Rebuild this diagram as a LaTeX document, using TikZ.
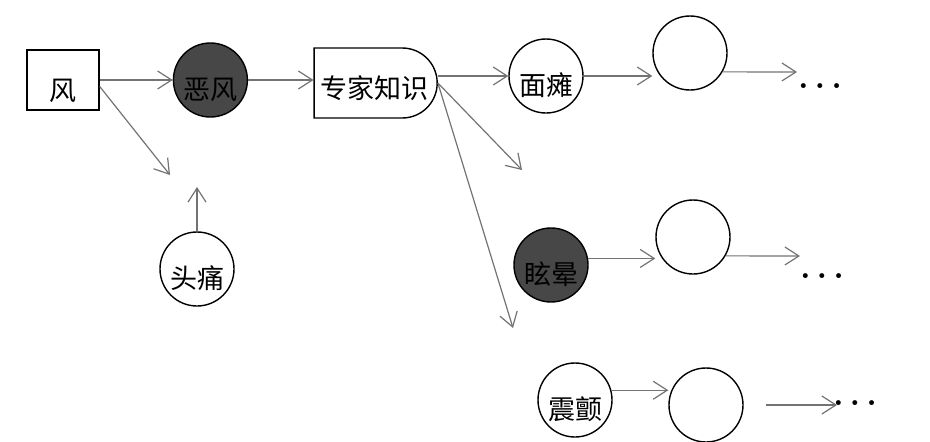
\documentclass[tikz,border=0pt]{standalone}
\usepackage{fontspec}
\usepackage{tikz}
\usetikzlibrary{arrows.meta, positioning, shapes.misc}
\newfontfamily\cjk{Noto Sans CJK SC}

\begin{document}
\begin{tikzpicture}[x=1pt, y=-1pt,
    sym/.style={draw, circle, line width=1.4pt, minimum size=74pt, inner sep=0pt,
                font=\cjk\fontsize{27}{27}\selectfont, text height=38pt, text depth=0pt},
    dk/.style={sym, fill=black!72},
    kb/.style={draw, rounded rectangle, rounded rectangle west arc=none, line width=1.4pt,
               minimum width=125pt, minimum height=70pt, inner sep=1pt,
               font=\cjk\fontsize{27}{27}\selectfont, text height=30pt, text depth=0pt},
    bx/.style={draw, line width=1.4pt, minimum width=72pt, minimum height=60pt, inner sep=0pt,
               font=\cjk\fontsize{27}{27}\selectfont, text height=40pt, text depth=0pt},
    dts/.style={font=\bfseries\fontsize{34}{34}\selectfont, inner sep=0pt},
    arr/.style={-{Straight Barb[length=14pt, width=18pt]}, line width=1.2pt, black!55}]
  \useasboundingbox (0,0) rectangle (930,442);
  \node[bx] (feng) at (63,80) {风};
  \node[dk, right=73pt of feng] (efeng) {恶风};
  \node[kb] (zj) at (374,83) {专家知识};
  \node[sym] (tt) at (197,269) {头痛};
  \node[sym] (mian) at (546,76) {面瘫};
  \node[sym] (e1) at (690,53) {};
  \node[dk] (xuan) at (551,265) {眩晕};
  \node[sym] (e2) at (693,237) {};
  \node[sym] (zhen) at (575,400) {震颤};
  \node[sym] (e3) at (706,405) {};
  \node[dts] (d1) at (820,86) {.\hspace{6pt}.\hspace{6pt}.};
  \node[dts] (d2) at (822,276) {.\hspace{6pt}.\hspace{6pt}.};
  \node[dts] (d3) at (855,403) {.\hspace{6pt}.\hspace{6pt}.};
  % free ends
  \coordinate (fd) at (170,175);
  \coordinate (tu) at (197,187);
  \coordinate (zd1) at (522,170);
  \coordinate (zd2) at (513,328);
  \coordinate (a1) at (797,72);
  \coordinate (a2) at (800,256);
  \coordinate (a3) at (837,405);
  \draw[arr] (feng) -- (efeng);
  \draw[arr] (feng.-10) -- (fd);
  \draw[arr] (tt) -- (tu);
  \draw[arr] (efeng) -- (efeng -| zj.west);
  \draw[arr] (zj.east |- mian) -- (mian);
  \draw[arr] (zj.east) -- (zd1);
  \draw[arr] (zj.east) -- (zd2);
  \draw[arr] (mian.east) -- (mian.east -| e1.west);
  \draw[arr] (e1.-30) -- (a1);
  \draw[arr] (xuan.10) -- (xuan.10 -| e2.west);
  \draw[arr] (e2.-30) -- (a2);
  \draw[arr] (zhen.15) -- (zhen.15 -| e3.west);
  \draw[arr, shorten <=22pt] (e3.east) -- (a3);
\end{tikzpicture}
\end{document}
